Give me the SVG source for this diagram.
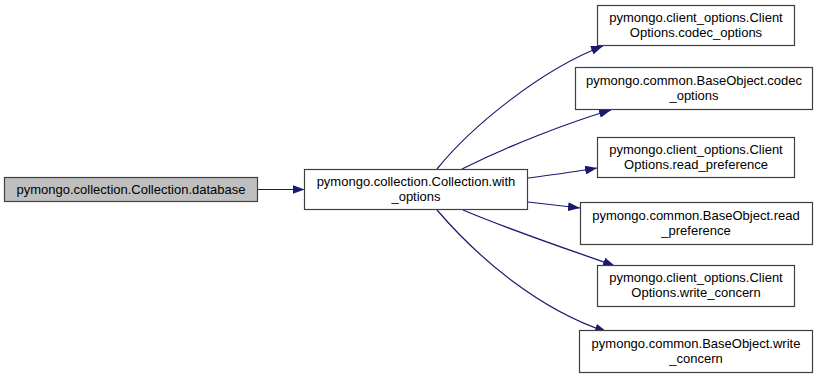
<svg xmlns="http://www.w3.org/2000/svg" width="821" height="379" viewBox="0 0 821 379">
  <style>
    .node rect { fill: #ffffff; stroke: #404040; stroke-width: 1.2; }
    .node.current rect { fill: #bfbfbf; }
    .node text { font-family: "Liberation Sans", Arial, sans-serif; font-size: 13px; fill: #000000; text-anchor: middle; }
    .edge { fill: none; stroke: #191970; stroke-width: 1.2; marker-end: url(#arrow); }
  </style>
  <defs>
    <marker id="arrow" viewBox="0 0 12 9" refX="12" refY="4.5" markerWidth="12" markerHeight="9" markerUnits="userSpaceOnUse" orient="auto">
      <path d="M0,0 L12,4.5 L0,9 Z" fill="#191970"/>
    </marker>
  </defs>

  <rect width="821" height="379" fill="#ffffff"/>

  <g id="connectors">
    <path class="edge" d="M257.5,189.5 L304.5,189.5"/>
    <path class="edge" d="M437,169 C470,128 540,70 603,46"/>
    <path class="edge" d="M462,169 C510,145 570,122 611,110"/>
    <path class="edge" d="M528,178 C550,175 575,172 597,168"/>
    <path class="edge" d="M528,202 C545,204 562,206 580,208"/>
    <path class="edge" d="M463,210 C510,230 570,250 615,266"/>
    <path class="edge" d="M437,210 C480,260 540,310 607,332"/>
  </g>

  <g id="node-database" class="node current">
    <rect x="4.5" y="177.5" width="253" height="24"/>
    <text x="131" y="194">pymongo.collection.Collection.database</text>
  </g>

  <g id="node-with-options" class="node">
    <rect x="304.5" y="169.5" width="223" height="40"/>
    <text x="416" y="186">pymongo.collection.Collection.with</text>
    <text x="416" y="201">_options</text>
  </g>

  <g id="node-client-codec-options" class="node">
    <rect x="597.5" y="5.5" width="197" height="40"/>
    <text x="696" y="22">pymongo.client_options.Client</text>
    <text x="696" y="37">Options.codec_options</text>
  </g>

  <g id="node-base-codec-options" class="node">
    <rect x="575.5" y="67.5" width="237" height="42"/>
    <text x="694" y="85">pymongo.common.BaseObject.codec</text>
    <text x="694" y="100">_options</text>
  </g>

  <g id="node-client-read-preference" class="node">
    <rect x="597.5" y="137.5" width="197" height="40"/>
    <text x="696" y="154">pymongo.client_options.Client</text>
    <text x="696" y="169">Options.read_preference</text>
  </g>

  <g id="node-base-read-preference" class="node">
    <rect x="580.5" y="202.5" width="232" height="42"/>
    <text x="696" y="220">pymongo.common.BaseObject.read</text>
    <text x="696" y="235">_preference</text>
  </g>

  <g id="node-client-write-concern" class="node">
    <rect x="597.5" y="265.5" width="197" height="41"/>
    <text x="696" y="282">pymongo.client_options.Client</text>
    <text x="696" y="297">Options.write_concern</text>
  </g>

  <g id="node-base-write-concern" class="node">
    <rect x="579.5" y="330.5" width="233" height="42"/>
    <text x="696" y="348">pymongo.common.BaseObject.write</text>
    <text x="696" y="363">_concern</text>
  </g>
</svg>
